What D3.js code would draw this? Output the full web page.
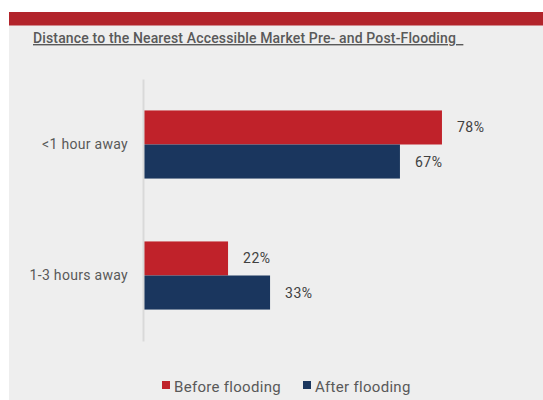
<!DOCTYPE html>
<html>
<head>
<meta charset="utf-8">
<script src="https://cdn.jsdelivr.net/npm/d3@7"></script>
<style>
  body { margin: 0; background: #fff; }
  svg { display: block; }
</style>
</head>
<body>
<div id="chart"></div>
<script>
const categories = ['<1 hour away', '1-3 hours away'];
const seriesNames = ['Before flooding', 'After flooding'];
const before = [78, 22];
const after = [67, 33];
const colors = ['#c0222a', '#1a365e'];

const W = 543, H = 400;
const font = 'Roboto, "Liberation Sans", sans-serif';
const grey = '#595959';

const svg = d3.select('#chart').append('svg')
    .attr('width', W)
    .attr('height', H);

// panel + red band
svg.append('rect').attr('x', 9).attr('y', 25).attr('width', W - 9).attr('height', H - 25).attr('fill', '#eeeeee');
svg.append('rect').attr('x', 9).attr('y', 12).attr('width', W - 9).attr('height', 13.5).attr('fill', '#b2242b');

svg.append('text')
    .attr('x', 33).attr('y', 43)
    .attr('font-family', font).attr('font-size', 14).attr('font-weight', 500)
    .attr('letter-spacing', 0.15)
    .attr('fill', grey)
    .attr('text-decoration', 'underline')
    .style('white-space', 'pre')
    .text('Distance to the Nearest Accessible Market Pre- and Post-Flooding  ');

const y = d3.scaleBand().domain(categories).range([79, 341]).paddingInner(0.48).paddingOuter(0.24);
const ySub = d3.scaleBand().domain(seriesNames).range([0, y.bandwidth()]);
const x = d3.scaleLinear().domain([0, 100]).range([144, 526]);

const rows = categories.map((c, i) => ({cat: c, vals: [before[i], after[i]]}));

const g = svg.append('g');
const groups = g.selectAll('g.grp').data(rows).join('g')
    .attr('class', 'grp')
    .attr('transform', d => `translate(0,${y(d.cat)})`);

groups.selectAll('rect').data(d => d.vals.map((v, j) => ({v, s: seriesNames[j], j}))).join('rect')
    .attr('x', x(0))
    .attr('y', d => ySub(d.s))
    .attr('width', d => x(d.v) - x(0))
    .attr('height', ySub.bandwidth())
    .attr('fill', d => colors[d.j]);

groups.selectAll('text.val').data(d => d.vals.map((v, j) => ({v, s: seriesNames[j]}))).join('text')
    .attr('class', 'val')
    .attr('x', d => x(d.v) + 15)
    .attr('y', d => ySub(d.s) + ySub.bandwidth() / 2 + 5)
    .attr('font-family', font).attr('font-size', 14)
    .attr('letter-spacing', 0.5)
    .attr('fill', '#404040')
    .text(d => d.v + '%');

// axis
const yAxis = svg.append('g').attr('transform', 'translate(143,0)')
    .call(d3.axisLeft(y).tickSize(0).tickPadding(15));
yAxis.select('.domain').attr('stroke', '#d9d9d9').attr('stroke-width', 2);
yAxis.selectAll('text')
    .attr('font-family', font).attr('font-size', 14)
    .attr('letter-spacing', 0.3)
    .attr('fill', grey);

// legend
const legend = svg.append('g').attr('transform', 'translate(162,387)');
const lx = [0, 141];
seriesNames.forEach((s, i) => {
    legend.append('rect').attr('x', lx[i]).attr('y', -6).attr('width', 8).attr('height', 8).attr('fill', colors[i]);
    legend.append('text').attr('x', lx[i] + 12).attr('y', 5)
        .attr('font-family', font).attr('font-size', 15)
        .attr('letter-spacing', 0.3)
        .attr('fill', grey)
        .text(s);
});
</script>
</body>
</html>
